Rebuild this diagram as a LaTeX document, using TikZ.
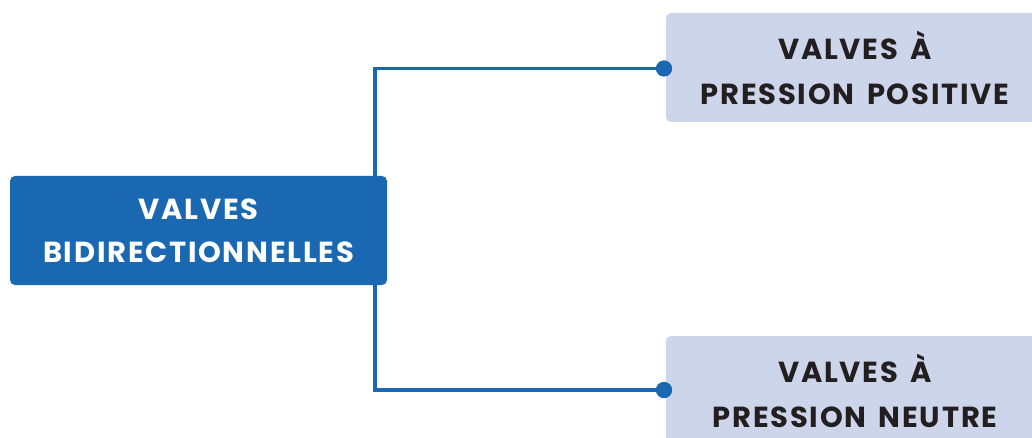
\documentclass[tikz,border=0pt]{standalone}
\usepackage{fontspec}
\setmainfont{Poppins}[UprightFont=* Bold, LetterSpace=6, WordSpace=1.6]
\definecolor{mainblue}{HTML}{1A68B2}
\definecolor{lightbox}{HTML}{CDD5EB}
\definecolor{darktext}{HTML}{231F20}
\begin{document}
\begin{tikzpicture}[x=1pt,y=-1pt,
  mainbox/.style={fill=mainblue, text=white, rounded corners=5pt, minimum width=377pt, minimum height=109pt, align=center, inner sep=0pt, font=\fontsize{29}{43}\selectfont},
  subbox/.style={fill=lightbox, text=darktext, rounded corners=5pt, minimum width=378pt, minimum height=109pt, align=center, inner sep=0pt, font=\fontsize{29}{45}\selectfont},
  conn/.style={draw=mainblue, line width=3.8pt},
  dotnode/.style={circle, fill=mainblue, minimum size=16pt, inner sep=0pt}]
\useasboundingbox (0,0) rectangle (1032,438);
\clip (0,0) rectangle (1032,438);
\node[mainbox] (main) at (198.5,230.5) {VALVES\\BIDIRECTIONNELLES};
\node[subbox] (pos) at (855,67.5) {VALVES À\\PRESSION POSITIVE};
\node[subbox] (neu) at (855,390.5) {VALVES À\\PRESSION NEUTRE};
\coordinate (jx) at (375,0);
\node[dotnode] (d1) at (664,68.5) {};
\node[dotnode] (d2) at (664,390) {};
\draw[conn] (main.north -| jx) |- (d1.center);
\draw[conn] (main.south -| jx) |- (d2.center);
\node[dotnode] at (d1) {};
\node[dotnode] at (d2) {};
\end{tikzpicture}
\end{document}
